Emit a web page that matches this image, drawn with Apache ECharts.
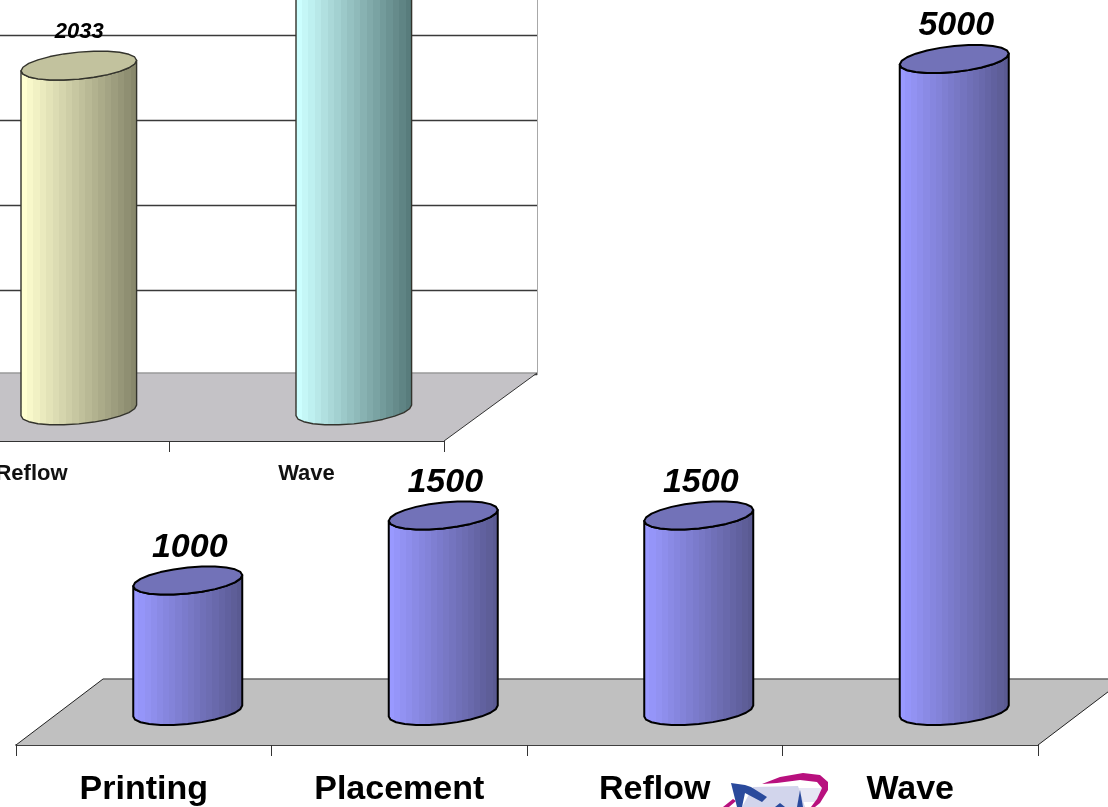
<!DOCTYPE html>
<html>
<head>
<meta charset="utf-8">
<style>html,body{margin:0;padding:0;background:#fff}#chart{width:1108px;height:807px}</style>
<script src="https://cdn.jsdelivr.net/npm/echarts@6/dist/echarts.min.js"></script>
</head>
<body>
<div id="chart"></div>
<script>
// Small multiple: two 3D-look cylinder charts of process-step figures.
const upperCategories = ['Reflow', 'Wave'];
const upperValues = [2033, 3000];
const lowerCategories = ['Printing', 'Placement', 'Reflow', 'Wave'];
const lowerValues = [1000, 1500, 1500, 5000];

const FONT = '"Liberation Sans", Arial, sans-serif';

// Discrete shading bands across the cylinder, light on the left, dark on the right.
function bands(from, to, n) {
  const stops = [];
  for (let i = 0; i < n; i++) {
    const k = i / (n - 1);
    const c = from.map((v, j) => Math.round(v + (to[j] - v) * k));
    const col = 'rgb(' + c.join(',') + ')';
    stops.push({ offset: i / n, color: col }, { offset: (i + 1) / n, color: col });
  }
  return stops;
}

// Tilted ellipse outline between parameter angles a and b, faceted like the cylinder shading.
function arc(cx, cy, rx, ry, tilt, a, b) {
  const pts = [];
  const steps = Math.round(Math.abs(b - a) / Math.PI * 12);
  for (let i = 0; i <= steps; i++) {
    const t = a + (b - a) * i / steps;
    pts.push([cx + rx * Math.cos(t), cy - tilt * Math.cos(t) + ry * Math.sin(t)]);
  }
  return pts;
}

function cylinderRenderer(look) {
  return function (params, api) {
    const base = api.coord([api.value(0), 0]);
    const top = api.coord([api.value(0), api.value(1)]);
    const cx = base[0] + look.shift;
    const front = arc(cx, base[1], look.rx, look.ry, look.tilt, Math.PI, 0);
    const rim = arc(cx, top[1], look.rx, look.ry, look.tilt, 0, Math.PI);
    const stops = look.stops[params.dataIndex % look.stops.length];
    const cap = look.caps[params.dataIndex % look.caps.length];
    const line = { stroke: look.edge, lineWidth: look.edgeWidth, lineJoin: 'round' };
    return {
      type: 'group',
      children: [
        {
          type: 'polygon',
          shape: { points: front.concat(rim) },
          style: Object.assign({
            fill: new echarts.graphic.LinearGradient(0, 0, 1, 0, stops)
          }, line)
        },
        {
          type: 'polygon',
          shape: { points: arc(cx, top[1], look.rx, look.ry, look.tilt, 0, Math.PI * 2) },
          style: Object.assign({ fill: cap }, line)
        },
        {
          type: 'text',
          style: {
            text: String(api.value(1)),
            x: cx + look.labelShift,
            y: top[1] - look.labelGap,
            align: 'center',
            verticalAlign: 'middle',
            font: 'italic bold ' + look.labelSize + 'px ' + FONT,
            fill: '#000'
          }
        }
      ]
    };
  };
}

function floorRenderer(look) {
  return function (params) {
    const s = params.coordSys;
    const yBase = s.y + s.height;
    const fy = yBase + look.front;
    const by = yBase - look.back;
    const fl = s.x, fr = s.x + s.width;
    const line = (x1, y1, x2, y2, color) => ({
      type: 'line',
      shape: { x1, y1, x2, y2 },
      style: { stroke: color, lineWidth: 1 }
    });
    return {
      type: 'group',
      children: [
        {
          type: 'polygon',
          shape: { points: [[fl, fy], [fl + look.dx, by], [fr + look.dx, by], [fr, fy]] },
          style: { fill: look.fill }
        },
        {
          type: 'line',
          shape: { x1: fl + look.dx, y1: by, x2: fr + look.dx, y2: by },
          style: { stroke: look.backEdge, lineWidth: 1.5 }
        },
        line(fl, fy, fl + look.dx, by, look.sideEdge),
        line(fr, fy, fr + look.dx, by, look.sideEdge)
      ]
    };
  };
}

const upperLook = {
  shift: 47.3, rx: 57.8, ry: 13.5, tilt: 5.3, edge: '#33332c', edgeWidth: 1.4,
  labelShift: 0.5, labelGap: 34, labelSize: 22,
  stops: [bands([255, 255, 208], [136, 136, 108], 18), bands([204, 255, 255], [88, 124, 124], 18)],
  caps: ['#C2C29E', '#A6CFCF']
};
const lowerLook = {
  shift: 44, rx: 54.5, ry: 13, tilt: 5.5, edge: '#000', edgeWidth: 2,
  labelShift: 2, labelGap: 33, labelSize: 34,
  stops: [bands([153, 153, 255], [90, 90, 146], 18)],
  caps: ['#7272B8']
};
const upperFloor = { front: 30.6, back: 37.4, dx: 93, fill: '#C4C2C6', backEdge: '#9A9A9A', sideEdge: '#333' };
const lowerFloor = { front: 34, back: 32, dx: 87, fill: '#C0C0C0', backEdge: '#666', sideEdge: '#222' };

const hiddenAxis = { show: false };

const option = {
  animation: false,
  backgroundColor: '#fff',
  grid: [
    // back wall of the upper chart, carrying its gridlines
    { left: -13, width: 550, top: -49.3, height: 424, outerBoundsMode: 'none' },
    // cylinder plane of the upper chart
    { left: -106, width: 550, top: -98.4, height: 508.8, outerBoundsMode: 'none' },
    // cylinder plane of the lower chart
    { left: 16, width: 1022, top: 59, height: 652, outerBoundsMode: 'none' }
  ],
  xAxis: [
    { gridIndex: 0, type: 'category', data: upperCategories, show: false },
    {
      gridIndex: 1, type: 'category', data: upperCategories, offset: 30.6,
      axisLine: { onZero: false, lineStyle: { color: '#333', width: 1 } },
      axisTick: { show: true, length: 11, lineStyle: { color: '#333' } },
      axisLabel: { interval: 0, margin: 22, fontFamily: FONT, fontSize: 22, fontWeight: 'bold', color: '#111' }
    },
    {
      gridIndex: 2, type: 'category', data: lowerCategories, offset: 34,
      axisLine: { onZero: false, lineStyle: { color: '#000', width: 1.5 } },
      axisTick: { show: true, length: 11, lineStyle: { color: '#333' } },
      axisLabel: { interval: 0, margin: 28, fontFamily: FONT, fontSize: 34, fontWeight: 'bold', color: '#000' }
    }
  ],
  yAxis: [
    {
      gridIndex: 0, type: 'value', min: 0, max: 2500, interval: 500, position: 'right',
      axisLine: { show: true, lineStyle: { color: '#A8A8A8', width: 1 } },
      axisTick: { show: false },
      axisLabel: { show: false },
      splitLine: { lineStyle: { color: '#3a3a3a', width: 1.4 } }
    },
    Object.assign({ gridIndex: 1, type: 'value', min: 0, max: 3000 }, hiddenAxis),
    Object.assign({ gridIndex: 2, type: 'value', min: 0, max: 5000 }, hiddenAxis)
  ],
  series: [
    {
      type: 'custom', xAxisIndex: 1, yAxisIndex: 1, z: 2, clip: false, silent: true,
      data: [[0]], renderItem: floorRenderer(upperFloor)
    },
    {
      type: 'custom', xAxisIndex: 1, yAxisIndex: 1, z: 3, clip: false, silent: true,
      encode: { x: 0, y: 1 },
      data: upperValues.map((v, i) => [i, v]), renderItem: cylinderRenderer(upperLook)
    },
    {
      type: 'custom', xAxisIndex: 2, yAxisIndex: 2, z: 4, clip: false, silent: true,
      data: [[0]], renderItem: floorRenderer(lowerFloor)
    },
    {
      type: 'custom', xAxisIndex: 2, yAxisIndex: 2, z: 5, clip: false, silent: true,
      encode: { x: 0, y: 1 },
      data: lowerValues.map((v, i) => [i, v]), renderItem: cylinderRenderer(lowerLook)
    }
  ],
  // company mark beside the last category labels
  graphic: [
    { type: 'polygon', z: 19, shape: { points: [[795,788],[822,788],[816,802],[800,802]] }, style: { fill: '#E6E6F4' } },
    { type: 'polygon', z: 20, shape: { points: [[753,787],[798,786],[805,807],[742,807]] }, style: { fill: '#D2D5EC' } },
    { type: 'polygon', z: 21, shape: { points: [[762,784],[780,777],[803,773],[820,775],[828,782],[828,790],[820,803],[815,807],[811,807],[817,799],[822,788],[817,782],[800,780],[777,783]] }, style: { fill: '#B8107E' } },
    { type: 'polygon', z: 21, shape: { points: [[723,807],[733,799],[736,801],[729,807]] }, style: { fill: '#B8107E' } },
    { type: 'polygon', z: 22, shape: { points: [[731,783],[745,785],[751,787],[767,797],[762,802],[745,793],[742,807],[737,807]] }, style: { fill: '#2A4A9C' } },
    { type: 'polygon', z: 22, shape: { points: [[800,790],[803,807],[797,807]] }, style: { fill: '#2A4A9C' } },
    { type: 'polygon', z: 22, shape: { points: [[780,803],[785,807],[775,807]] }, style: { fill: '#2A4A9C' } }
  ]
};

echarts.init(document.getElementById('chart'), null, { renderer: 'canvas' }).setOption(option);
</script>
</body>
</html>
